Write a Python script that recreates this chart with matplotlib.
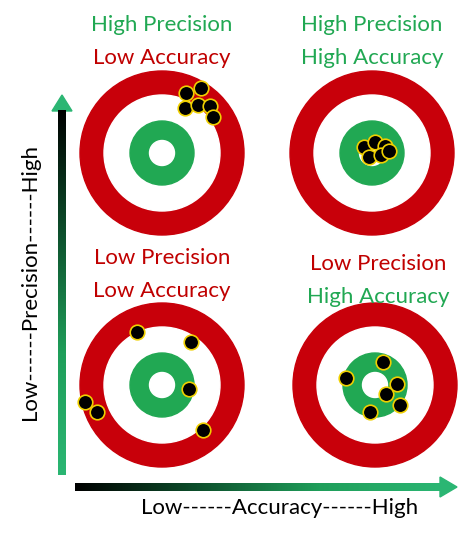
import numpy as np
import matplotlib.pyplot as plt
from matplotlib.patches import Circle, Polygon
from matplotlib.colors import LinearSegmentedColormap

# Titulos de cada diana
titulos = [("High Precision", "Low Accuracy"), ("High Precision", "High Accuracy"),
           ("Low Precision", "Low Accuracy"), ("Low Precision", "High Accuracy")]
centros = [(162, 153), (372, 153), (162, 385), (375, 385)]
pos_titulo = [(162, 25), (372, 25), (162, 258), (378, 264)]

# Impactos (pixeles de la imagen)
imp_x = [[186, 201, 185, 198, 210, 213],
         [364, 375, 385, 369, 381, 389],
         [137, 191, 189, 85, 97, 203],
         [383, 346, 397, 370, 400, 386]]
imp_y = [[93, 88, 108, 105, 106, 117],
         [147, 142, 146, 157, 155, 151],
         [332, 342, 389, 402, 412, 430],
         [362, 378, 384, 412, 405, 394]]

verde = '#21a853'
rojo = '#c00000'
plt.rcParams['font.family'] = ['Lato', 'DejaVu Sans']

fig = plt.figure(figsize=(4.74, 5.36), dpi=100)
ax = fig.add_axes([0, 0, 1, 1])
ax.set_xlim(0, 474)
ax.set_ylim(536, 0)
ax.axis('off')

for (cx, cy) in centros:
    ax.add_patch(Circle((cx, cy), 82, color='#c8000a'))
    ax.add_patch(Circle((cx, cy), 58, color='white'))
    ax.add_patch(Circle((cx, cy), 32, color=verde))
    ax.add_patch(Circle((cx, cy), 12.5, color='white'))

for xs, ys in zip(imp_x, imp_y):
    ax.scatter(xs, ys, s=110, c='black', edgecolors='#f0d000', linewidths=1.2, zorder=5)

for (t1, t2), (tx, ty) in zip(titulos, pos_titulo):
    c1 = verde if t1.startswith("High") else rojo
    c2 = verde if t2.startswith("High") else rojo
    ax.text(tx, ty, t1, color=c1, fontsize=16, ha='center', va='center')
    ax.text(tx, ty + 33, t2, color=c2, fontsize=16, ha='center', va='center')

cmap = LinearSegmentedColormap.from_list('flecha', ['#000000', '#0d4f2c', '#1f9e5a', '#2bb673'])
grad = np.linspace(0, 1, 256)

# Flecha vertical (negro abajo, verde arriba)
ax.imshow(grad[:, None], cmap=cmap, aspect='auto', origin='upper',
          extent=(58, 66, 475, 110), zorder=2)
ax.add_patch(Polygon([(52, 111), (72, 111), (62, 95)], color='#2bb673'))

# Flecha horizontal
ax.imshow(grad[None, :], cmap=cmap, aspect='auto',
          extent=(75, 441, 491, 483), zorder=2)
ax.add_patch(Polygon([(440, 477), (440, 497), (457, 487)], color='#2bb673'))

ax.set_xlim(0, 474)
ax.set_ylim(536, 0)

ax.text(30, 282, "Low------Precision------High", rotation=90, fontsize=16, ha='center', va='center')
ax.text(280, 508, "Low------Accuracy------High", fontsize=16, ha='center', va='center')

plt.savefig('out.png', dpi=100)
